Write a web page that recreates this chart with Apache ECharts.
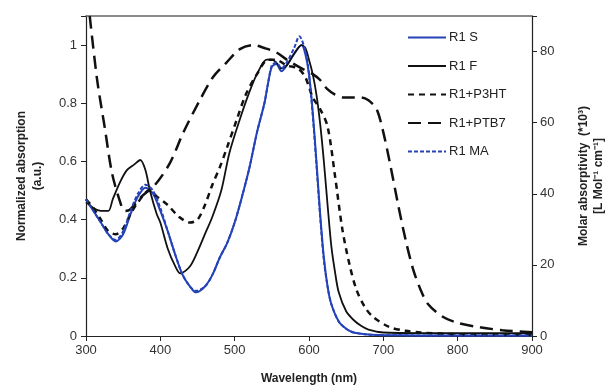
<!DOCTYPE html>
<html><head><meta charset="utf-8">
<script src="https://cdn.jsdelivr.net/npm/echarts@6/dist/echarts.min.js"></script>
<style>html,body{margin:0;padding:0;background:#fff}#c{width:608px;height:387px}</style>
</head><body><div id="c"></div>
<script>
// ---- data ----
const seriesNames = ['R1 S', 'R1 F', 'R1+P3HT', 'R1+PTB7', 'R1 MA'];
const xTicks = [300, 400, 500, 600, 700, 800, 900];
const leftTicks = [0, 0.2, 0.4, 0.6, 0.8, 1];
const rightTicks = [0, 20, 40, 60, 80];

const wlS = [300,310,320,330,340,350,360,370,380,390,400,410,420,430,440,448,460,470,480,490,500,510,520,530,540,545,550,556,563,570,580,590,595,600,605,610,615,620,625,630,640,650,660,680,700,750,800,850,900];
const valS = [0.47,0.43,0.39,0.35,0.325,0.35,0.42,0.48,0.51,0.49,0.43,0.36,0.28,0.21,0.17,0.15,0.17,0.21,0.27,0.32,0.39,0.48,0.58,0.70,0.80,0.87,0.925,0.935,0.91,0.93,0.97,1.0,0.97,0.9,0.77,0.6,0.42,0.27,0.17,0.11,0.05,0.025,0.012,0.005,0.003,0.002,0.002,0.002,0.002];

const wlMA = [300,310,320,330,340,350,360,370,380,390,400,410,420,430,440,448,460,470,480,490,500,510,520,530,540,545,550,556,563,570,580,587,595,600,605,610,615,620,625,630,640,650,660,680,700,750,800,850,900];
const valMA = [0.47,0.43,0.39,0.35,0.33,0.36,0.43,0.49,0.52,0.5,0.44,0.36,0.28,0.21,0.17,0.155,0.17,0.21,0.27,0.32,0.39,0.48,0.58,0.70,0.80,0.87,0.93,0.94,0.92,0.94,0.99,1.03,0.98,0.9,0.76,0.59,0.41,0.26,0.17,0.11,0.05,0.025,0.012,0.005,0.003,0.002,0.002,0.002,0.002];

const wlF = [300,310,320,330,336,346,355,365,373,380,386,395,400,410,420,427,440,450,460,470,482,493,507,520,530,543,550,556,563,570,580,590,595,600,605,610,615,620,625,630,635,640,650,660,670,680,700,750,800,900];
const valF = [0.46,0.44,0.43,0.43,0.47,0.53,0.57,0.59,0.605,0.57,0.5,0.42,0.39,0.3,0.24,0.215,0.24,0.29,0.35,0.41,0.5,0.63,0.745,0.84,0.9,0.95,0.95,0.94,0.92,0.93,0.97,1.0,0.99,0.95,0.9,0.83,0.73,0.6,0.45,0.31,0.22,0.15,0.085,0.055,0.035,0.022,0.012,0.01,0.01,0.01];

const wlP3 = [300,310,320,330,340,350,360,370,385,395,410,425,440,450,460,470,480,490,503,515,530,545,555,570,585,595,605,615,625,635,645,655,664,675,686,708,730,750,800,850,900];
const valP3 = [0.47,0.44,0.4,0.36,0.35,0.37,0.42,0.46,0.5,0.48,0.45,0.41,0.39,0.4,0.45,0.52,0.58,0.65,0.745,0.83,0.9,0.95,0.95,0.93,0.92,0.89,0.82,0.78,0.72,0.55,0.365,0.24,0.158,0.1,0.066,0.031,0.018,0.012,0.006,0.005,0.004];

const wlPT = [305,315,325,335,346,352,359,375,393,413,431,453,471,489,507,525,540,556,570,590,605,615,624,635,647,660,670,680,691,700,710,720,730,740,750,760,780,800,830,860,900];
const valPT = [1.1,0.88,0.72,0.56,0.46,0.43,0.434,0.48,0.52,0.595,0.7,0.81,0.89,0.94,0.986,1.0,0.99,0.975,0.95,0.92,0.9,0.88,0.85,0.83,0.82,0.82,0.82,0.81,0.78,0.7,0.58,0.45,0.33,0.23,0.16,0.11,0.066,0.045,0.03,0.02,0.013];

const zip = (a, b) => a.map((x, i) => [x, b[i]]);

const BLUE = '#2543b8';
const chart = echarts.init(document.getElementById('c'), null, {renderer: 'canvas'});
const font = 'Liberation Sans, Arial, sans-serif';
const mkLine = (name, wl, val, color, width, type) => ({
  name, type: 'line', data: zip(wl, val), showSymbol: false, symbol: 'none',
  smooth: 0.3, lineStyle: {color, width, type}, itemStyle: {color}, z: 3
});

chart.setOption({
  animation: false,
  textStyle: {fontFamily: font},
  grid: {left: 86, right: 76, top: 16, bottom: 51, outerBoundsMode: 'none', containLabel: false},
  legend: {
    orient: 'vertical', left: 402, top: 26, itemGap: 15.5, itemWidth: 38, itemHeight: 14,
    icon: 'inherit',
    itemStyle: {opacity: 0},
    textStyle: {fontSize: 13, color: '#222', fontFamily: font, padding: [0, 0, 0, -2]},
    data: seriesNames
  },
  xAxis: [{
    type: 'value', min: 300, max: 900, interval: 100,
    axisLine: {lineStyle: {color: '#222', width: 1.2}},
    axisTick: {show: true, length: 5, lineStyle: {color: '#222'}},
    axisLabel: {fontSize: 13, color: '#333', margin: 8, formatter: v => xTicks.includes(v) ? String(v) : ''},
    splitLine: {show: false},
    name: 'Wavelength (nm)', nameLocation: 'middle', nameGap: 37,
    nameTextStyle: {fontWeight: 'bold', fontSize: 12, color: '#222'}
  }, {
    type: 'value', position: 'top', min: 300, max: 900,
    axisLine: {show: true, onZero: false, lineStyle: {color: '#666', width: 1.5}},
    axisTick: {show: false}, axisLabel: {show: false}, splitLine: {show: false}
  }],
  yAxis: [{
    type: 'value', min: 0, max: 1.1, interval: 0.2,
    axisLine: {show: true, lineStyle: {color: '#222', width: 1.2}},
    axisTick: {show: true, length: 5, lineStyle: {color: '#222'}},
    axisLabel: {fontSize: 13, color: '#333', margin: 9, formatter: v => leftTicks.some(t => Math.abs(t - v) < 1e-6) ? String(+v.toFixed(1)) : ''},
    splitLine: {show: false},
    name: 'Normalized absorption\n(a.u.)', nameLocation: 'middle', nameGap: 40, nameRotate: 90,
    nameTextStyle: {fontWeight: 'bold', fontSize: 12, color: '#222', lineHeight: 16}
  }, {
    type: 'value', min: 0, max: 90, interval: 20, position: 'right',
    axisLine: {show: true, lineStyle: {color: '#222', width: 1.2}},
    axisTick: {show: true, length: 5, lineStyle: {color: '#222'}},
    axisLabel: {fontSize: 13, color: '#333', margin: 8, formatter: v => rightTicks.includes(v) ? String(v) : ''},
    splitLine: {show: false},
    name: 'Molar absorptivity  (*10³)\n[L Mol⁻¹ cm⁻¹]', nameLocation: 'middle', nameGap: 44, nameRotate: 90,
    nameTextStyle: {fontWeight: 'bold', fontSize: 12, color: '#222', lineHeight: 15}
  }],
  series: [
    mkLine('R1 S', wlS, valS, BLUE, 2, 'solid'),
    mkLine('R1 F', wlF, valF, '#111', 1.8, 'solid'),
    mkLine('R1+P3HT', wlP3, valP3, '#111', 2.5, [6, 5]),
    mkLine('R1+PTB7', wlPT, valPT, '#111', 2.5, [13, 7]),
    mkLine('R1 MA', wlMA, valMA, BLUE, 2, [4, 2])
  ]
});
</script></body></html>
